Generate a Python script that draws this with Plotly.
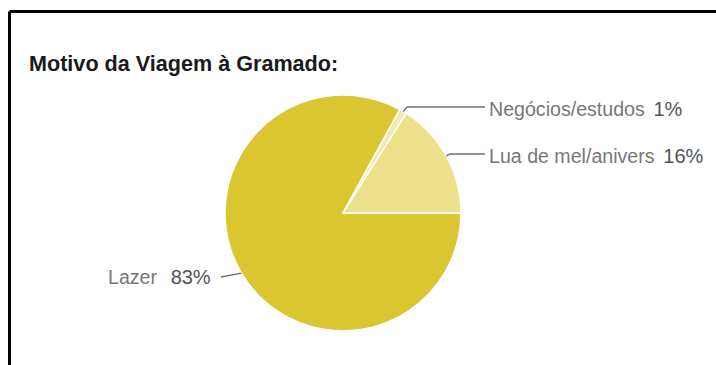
import math
import plotly.graph_objects as go

# Survey answers: reason for the trip to Gramado
categories = ["Lazer", "Negócios/estudos", "Lua de mel/anivers"]
shares = [83, 1, 16]
colors = ["#dac631", "#f2e9ad", "#ece08a"]

W, H = 716, 365
# pie placement in pixels
cx, cy, r = 343, 213, 118

def px(x):
    return x / W

def py(y):
    return 1 - y / H

fig = go.Figure()
fig.add_trace(go.Pie(
    labels=categories,
    values=shares,
    sort=False,
    direction="clockwise",
    rotation=90,
    marker=dict(colors=colors, line=dict(color="white", width=1.5)),
    textinfo="none",
    hoverinfo="label+percent",
    showlegend=False,
    domain=dict(x=[px(cx - r), px(cx + r)], y=[py(cy + r), py(cy - r)]),
))

# slice mid-angles (clockwise from 12 o'clock), derived from the shares
total = sum(shares)
start = 90.0
mids = {}
for name, v in zip(categories, shares):
    span = 360.0 * v / total
    mids[name] = start + span / 2
    start += span

def edge(name):
    a = math.radians(mids[name])
    return cx + r * math.sin(a), cy - r * math.cos(a)

# label rows: (category, label y, side, gap)
label_rows = [
    ("Negócios/estudos", 107, "right", " &#8198;"),
    ("Lua de mel/anivers", 154, "right", " &#8198;"),
    ("Lazer", 275, "left", " &#8197;&#8198;"),
]

shapes = []
annotations = []
line_style = dict(color="#6e6e6e", width=1.4)
for name, ly, side, gap in label_rows:
    ex, ey = edge(name)
    pct = shares[categories.index(name)]
    if side == "right":
        bx = ex + (ey - ly) * 0.9 if ey > ly else ex + 4
        pts = [(ex, ey), (max(bx, ex + 3), ly), (485, ly)]
        tx, anchor = 487, "left"
    else:
        pts = [(ex, ey), (221, ly + 2)]
        tx, anchor = 213, "right"
    for (x0, y0), (x1, y1) in zip(pts[:-1], pts[1:]):
        shapes.append(dict(type="line", xref="paper", yref="paper",
                           x0=px(x0), y0=py(y0), x1=px(x1), y1=py(y1),
                           line=line_style))
    annotations.append(dict(
        xref="paper", yref="paper", x=px(tx), y=py(ly + 2),
        xanchor=anchor, yanchor="middle", showarrow=False,
        text=f"{name}{gap}<span style='color:#4f545c;font-size:20px'>{pct}%</span>",
        font=dict(family="Liberation Sans, Arial, sans-serif", size=19.6, color="#777777"),
    ))

# title
annotations.append(dict(
    xref="paper", yref="paper", x=px(27), y=py(63),
    xanchor="left", yanchor="middle", showarrow=False,
    text="<b>Motivo da Viagem à Gramado:</b>",
    font=dict(family="Liberation Sans, Arial, sans-serif", size=21.6, color="#1a1a1a"),
))

# frame edges (top and left)
frame = dict(color="black", width=3)
shapes.append(dict(type="line", xref="paper", yref="paper",
                   x0=px(9.5), y0=py(11.5), x1=1.0, y1=py(11.5), line=frame))
shapes.append(dict(type="line", xref="paper", yref="paper",
                   x0=px(9.5), y0=py(11.5), x1=px(9.5), y1=0.0, line=frame))

fig.update_layout(
    width=W, height=H,
    margin=dict(l=0, r=0, t=0, b=0),
    paper_bgcolor="white",
    plot_bgcolor="white",
    shapes=shapes,
    annotations=annotations,
)

fig.write_html("out.html", include_plotlyjs=True, full_html=True,
               config={"displayModeBar": False})
